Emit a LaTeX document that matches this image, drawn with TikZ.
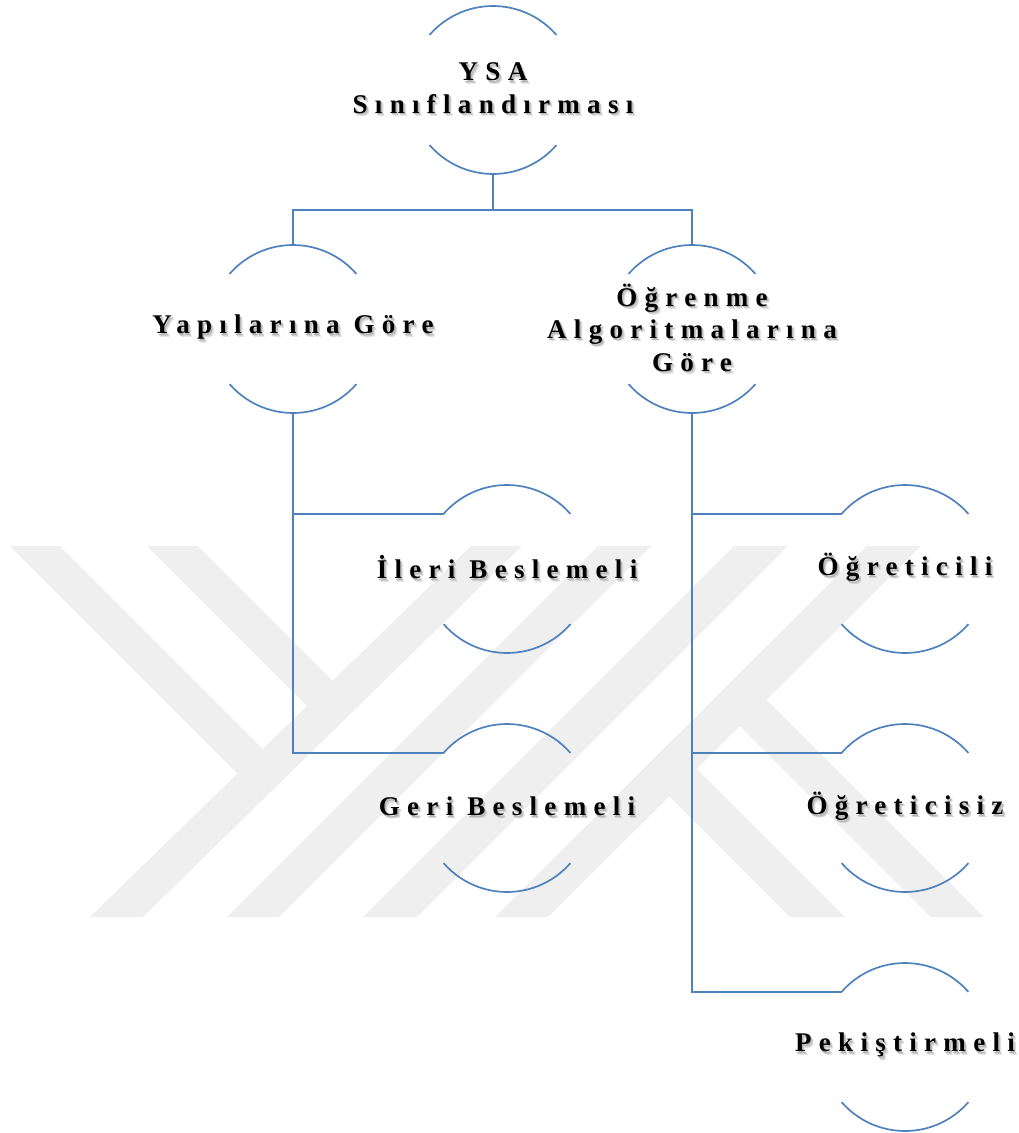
\documentclass[tikz,border=0pt]{standalone}
\usepackage{fontspec}
\setmainfont{Liberation Serif}
\newfontfamily\lblfont[LetterSpace=27]{Liberation Serif}
\definecolor{lineblue}{HTML}{4F81BD}
\definecolor{wm}{HTML}{EFEFEF}
\newcommand\shd[1]{%
  \rlap{\hspace{3pt}\raisebox{-3.2pt}{\textcolor{black!10}{#1}}}%
  \rlap{\hspace{2.2pt}\raisebox{-2.4pt}{\textcolor{black!18}{#1}}}%
  \rlap{\hspace{1.3pt}\raisebox{-1.5pt}{\textcolor{black!28}{#1}}}%
  #1}
\begin{document}
\begin{tikzpicture}[x=1pt,y=1pt,
  ring/.style={circle,minimum size=168pt,inner sep=0pt,outer sep=0pt},
  arcline/.style={draw=lineblue,line width=1.7pt},
  conn/.style={draw=lineblue,line width=1.7pt},
  lbl/.style={font=\lblfont\bfseries\fontsize{27}{32.5}\selectfont,align=center,inner sep=0pt},
  wmark/.style={fill=wm,draw=none}]
\useasboundingbox (0,0) rectangle (1019,-1133);
% watermark
\fill[wmark] (471,-546) -- (522,-546) -- (143,-917) -- (90,-917) -- cycle;
\fill[wmark] (598,-546) -- (651,-546) -- (279,-917) -- (227,-917) -- cycle;
\fill[wmark] (734,-546) -- (788,-546) -- (417,-917) -- (363,-917) -- cycle;
\fill[wmark] (867,-546) -- (921,-546) -- (548,-917) -- (495,-917) -- cycle;
\fill[wmark] (10,-546) -- (60,-546) -- (275.6,-761.6) -- (250.3,-786.3) -- cycle;
\fill[wmark] (147,-546) -- (198,-546) -- (345.5,-693.5) -- (319.6,-718.7) -- cycle;
\fill[wmark] (656,-783) -- (683.6,-755.6) -- (845,-917) -- (790,-917) -- cycle;
\fill[wmark] (726.7,-712.7) -- (753.2,-686.2) -- (984,-917) -- (931,-917) -- cycle;
% circles
\node[ring] (A) at (493,-90) {};
\node[ring] (B) at (293,-329) {};
\node[ring] (C) at (692,-329) {};
\node[ring] (D) at (507,-569) {};
\node[ring] (E) at (507,-808) {};
\node[ring] (F) at (905,-569) {};
\node[ring] (G) at (905,-808) {};
\node[ring] (H) at (905,-1047) {};
\foreach \n in {A,B,C,D,E,F,G,H}{
  \draw[arcline] (\n.41) arc[start angle=41,end angle=139,radius=84pt];
  \draw[arcline] (\n.221) arc[start angle=221,end angle=319,radius=84pt];
}
% connectors
\draw[conn] (A.south) -- ++(0,-36) coordinate (j);
\draw[conn] (B.north) |- (j) -| (C.north);
\draw[conn] (B.south) |- (D.139);
\draw[conn] (B.south) |- (E.139);
\draw[conn] (C.south) |- (F.139);
\draw[conn] (C.south) |- (G.139);
\draw[conn] (C.south) |- (H.139);
% labels
\node[lbl] at (A) {\shd{YSA}\\\shd{Sınıflandırması}};
\node[lbl] at (B) {\shd{Yapılarına Göre}};
\node[lbl] at (C) {\shd{Öğrenme}\\\shd{Algoritmalarına}\\\shd{Göre}};
\node[lbl] at (D) {\shd{İleri Beslemeli}};
\node[lbl] at (E) {\shd{Geri Beslemeli}};
\node[lbl] at (F) {\shd{Öğreticili}};
\node[lbl] at (G) {\shd{Öğreticisiz}};
\node[lbl] at (H) {\shd{Pekiştirmeli}};
\end{tikzpicture}
\end{document}
